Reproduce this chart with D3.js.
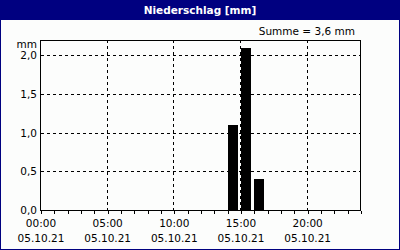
<!DOCTYPE html>
<html>
<head>
<meta charset="utf-8">
<script src="https://cdn.jsdelivr.net/npm/d3@7"></script>
<style>
  body { margin: 0; background: #fff; }
  svg { display: block; }
  text { font-family: Tahoma, "DejaVu Sans", Verdana, sans-serif; font-size: 10.5px; fill: #000; }
</style>
</head>
<body>
<div id="chart"></div>
<script>
// hourly precipitation, hour of day -> mm
var hours = [14, 15, 16],
    values = [1.1, 2.1, 0.4],
    yTicks = [0, 0.5, 1.0, 1.5, 2.0],
    xTicks = [0, 5, 10, 15, 20],
    xTickLabels = ['00:00', '05:00', '10:00', '15:00', '20:00'],
    dateLabel = '05.10.21',
    title = 'Niederschlag [mm]',
    summe = 'Summe = 3,6 mm';

var W = 400, H = 250,
    pLeft = 41, pRight = 361, pTop = 40, pBottom = 210;

var svg = d3.select('#chart').append('svg')
    .attr('width', W)
    .attr('height', H);

// frame
svg.append('rect').attr('x', 0).attr('y', 0).attr('width', W).attr('height', H).attr('fill', '#000080');
svg.append('rect').attr('x', 1).attr('y', 20).attr('width', W - 2).attr('height', H - 21).attr('fill', '#fcfdfc');

svg.append('text')
    .attr('x', W / 2).attr('y', 14)
    .attr('text-anchor', 'middle')
    .style('fill', '#fff')
    .style('font-weight', 'bold')
    .text(title);

svg.append('text')
    .attr('x', 355).attr('y', 35)
    .attr('text-anchor', 'end')
    .text(summe);

var x = d3.scaleLinear().domain([0, 24]).range([pLeft, pRight]);
var y = d3.scaleLinear().domain([0, 2.2]).range([pBottom, pTop]);

// grid
var grid = svg.append('g').attr('stroke', '#000').attr('stroke-dasharray', '3,3').attr('shape-rendering', 'crispEdges');
grid.selectAll('.hg').data(yTicks.filter(d => d > 0)).enter().append('line')
    .attr('x1', pLeft).attr('x2', pRight)
    .attr('y1', d => Math.round(y(d)) + 0.5).attr('y2', d => Math.round(y(d)) + 0.5);
grid.selectAll('.vg').data(xTicks.filter(d => d > 0)).enter().append('line')
    .attr('y1', pTop).attr('y2', pBottom)
    .attr('x1', d => Math.round(x(d)) - 0.5).attr('x2', d => Math.round(x(d)) - 0.5);

// bars: start at the hour, ~0.75 h wide
svg.append('g').selectAll('rect').data(hours).enter().append('rect')
    .attr('x', d => Math.round(x(d)))
    .attr('width', Math.round(x(0.75) - x(0)))
    .attr('y', (d, i) => Math.round(y(values[i])))
    .attr('height', (d, i) => pBottom - Math.round(y(values[i])))
    .attr('fill', '#000');

// plot border
svg.append('rect')
    .attr('x', pLeft - 0.5).attr('y', pTop + 0.5)
    .attr('width', pRight - pLeft).attr('height', pBottom - pTop)
    .attr('fill', 'none').attr('stroke', '#000').attr('shape-rendering', 'crispEdges');

// x axis
var xAxis = d3.axisBottom(x)
    .tickValues(d3.range(0, 25))
    .tickSize(3)
    .tickFormat('');
svg.append('g')
    .attr('transform', 'translate(0,' + (pBottom + 0.5) + ')')
    .call(xAxis)
    .call(g => g.select('.domain').remove())
    .call(g => g.selectAll('line').attr('stroke', '#000').attr('shape-rendering', 'crispEdges'));

var xl = svg.append('g');
xl.selectAll('.t').data(xTicks).enter().append('text')
    .attr('x', d => x(d)).attr('y', 227)
    .attr('text-anchor', 'middle')
    .text((d, i) => xTickLabels[i]);
xl.selectAll('.d').data(xTicks).enter().append('text')
    .attr('x', d => x(d)).attr('y', 242)
    .attr('text-anchor', 'middle')
    .text(dateLabel);

// y labels
var fmt = d => d3.format('.1f')(d).replace('.', ',');
svg.append('g').selectAll('text').data(yTicks).enter().append('text')
    .attr('x', 37).attr('y', d => y(d) + 4)
    .attr('text-anchor', 'end')
    .text(fmt);
svg.append('text')
    .attr('x', 37).attr('y', 48)
    .attr('text-anchor', 'end')
    .text('mm');
</script>
</body>
</html>
